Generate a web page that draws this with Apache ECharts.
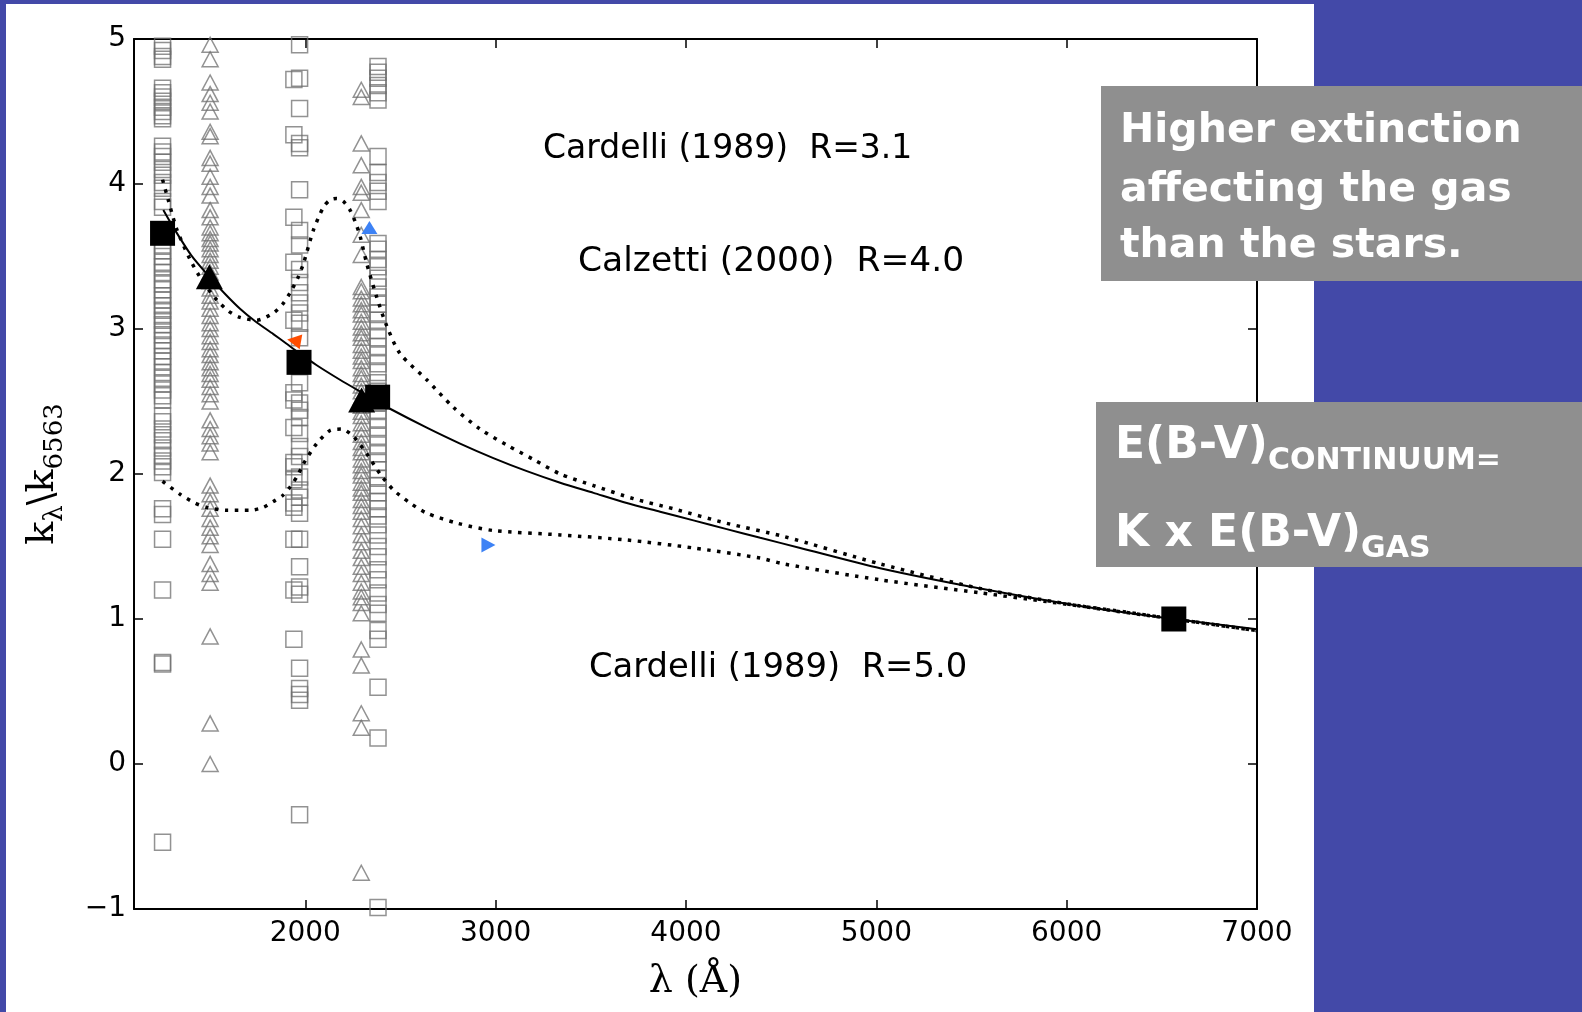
<!DOCTYPE html>
<html><head><meta charset="utf-8">
<script src="https://cdn.jsdelivr.net/npm/echarts@6/dist/echarts.min.js"></script>
<style>html,body{margin:0;padding:0;background:#4349a8;overflow:hidden}#c{width:1582px;height:1012px}</style>
</head><body><div id="c"></div>
<script>
// ---- data ----
const xTicks = [2000, 3000, 4000, 5000, 6000, 7000];
const yTicks = [-1, 0, 1, 2, 3, 4, 5];

// open grey squares / triangles (individual objects), wavelength columns
const colA_x = 1250; // squares
const colA_y = [4.95, 4.92, 4.88, 4.86, 4.66, 4.63, 4.60, 4.57, 4.53, 4.50, 4.47, 4.45, 4.26, 4.22, 4.19, 4.15, 4.10, 4.06, 4.01, 3.97, 3.88, 3.84, 3.58, 3.54, 3.50, 3.46, 3.43, 3.39, 3.34, 3.31, 3.27, 3.23, 3.20, 3.16, 3.13, 3.09, 3.06, 3.03, 2.99, 2.96, 2.92, 2.89, 2.85, 2.81, 2.78, 2.74, 2.70, 2.66, 2.62, 2.58, 2.54, 2.51, 2.40, 2.36, 2.31, 2.27, 2.23, 2.18, 2.13, 2.09, 2.05, 2.01, 1.76, 1.72, 1.55, 1.20, 0.70, 0.69, -0.54];
const colB_x = 1500; // triangles
const colB_y = [4.96, 4.86, 4.70, 4.62, 4.56, 4.50, 4.36, 4.33, 4.18, 4.14, 4.05, 3.98, 3.92, 3.82, 3.77, 3.70, 3.66, 3.62, 3.59, 3.55, 3.51, 3.47, 3.43, 3.39, 3.33, 3.28, 3.23, 3.19, 3.14, 3.09, 3.04, 3.00, 2.95, 2.91, 2.86, 2.82, 2.77, 2.73, 2.69, 2.65, 2.60, 2.55, 2.50, 2.37, 2.31, 2.26, 2.21, 2.15, 1.92, 1.86, 1.81, 1.76, 1.69, 1.63, 1.57, 1.51, 1.38, 1.31, 1.25, 0.88, 0.28, 0.00];
const colC1_x = 1970; // squares
const colC1_y = [4.96, 4.73, 4.52, 4.28, 4.25, 3.96, 3.68, 3.58, 3.41, 3.32, 3.25, 3.18, 3.11, 3.04, 2.94, 2.63, 2.49, 2.44, 2.39, 2.28, 2.19, 2.12, 1.98, 1.89, 1.84, 1.73, 1.55, 1.36, 1.22, 1.17, 0.66, 0.52, 0.48, 0.44, -0.35];
const colC2_x = 1940; // squares
const colC2_y = [4.72, 4.34, 3.77, 3.46, 3.06, 2.56, 2.51, 2.32, 2.08, 2.05, 1.96, 1.80, 1.77, 1.55, 1.20, 0.86];
const colD_x = 2294; // triangles
const colD_y = [4.65, 4.60, 4.28, 4.13, 3.98, 3.94, 3.82, 3.65, 3.51, 3.29, 3.26, 3.21, 3.17, 3.13, 3.10, 3.05, 3.01, 2.97, 2.94, 2.89, 2.85, 2.81, 2.78, 2.73, 2.69, 2.66, 2.61, 2.57, 2.53, 2.47, 2.43, 2.40, 2.35, 2.31, 2.27, 2.22, 2.18, 2.15, 2.10, 2.06, 2.02, 1.99, 1.94, 1.90, 1.87, 1.82, 1.78, 1.74, 1.69, 1.64, 1.58, 1.53, 1.47, 1.42, 1.36, 1.31, 1.25, 1.19, 1.15, 1.11, 1.04, 0.79, 0.68, 0.35, 0.25, -0.75];
const colE_x = 2382; // squares
const colE_y = [4.81, 4.77, 4.73, 4.68, 4.63, 4.58, 4.19, 4.08, 4.01, 3.95, 3.88, 3.59, 3.55, 3.48, 3.43, 3.35, 3.29, 3.22, 3.17, 3.11, 3.06, 2.99, 2.94, 2.88, 2.82, 2.76, 2.70, 2.63, 2.57, 2.49, 2.44, 2.38, 2.32, 2.26, 2.20, 2.14, 2.08, 2.03, 1.97, 1.92, 1.87, 1.81, 1.76, 1.71, 1.65, 1.58, 1.50, 1.43, 1.34, 1.27, 1.18, 1.10, 1.04, 0.92, 0.86, 0.53, 0.18, -0.99];

// big black markers (stacked values)
const bigSq_x = [1250, 1967, 2380, 6563];
const bigSq_y = [3.66, 2.77, 2.53, 1.00];
const bigTri_x = [1496, 2296];
const bigTri_y = [3.36, 2.51];

// small coloured markers
const blueUp = [2337, 3.70];
const orangeLeft = [1941, 2.92];
const blueRight = [2962, 1.51];

// curves
const calzLam = [1254, 1307, 1400, 1496, 1580, 1657, 1740, 1832, 1900, 1967, 2060, 2182, 2300, 2380, 2445, 2638, 2813, 2988, 3164, 3339, 3514, 3689, 3864, 4039, 4214, 4390, 4600, 5020, 5546, 6071, 6563, 7000];
const calzK = [3.82, 3.70, 3.51, 3.36, 3.24, 3.14, 3.05, 2.965, 2.90, 2.835, 2.75, 2.65, 2.56, 2.50, 2.45, 2.32, 2.21, 2.11, 2.02, 1.94, 1.87, 1.80, 1.74, 1.68, 1.62, 1.56, 1.49, 1.35, 1.21, 1.09, 1.00, 0.93];
const card31Lam = [1250, 1280, 1324, 1394, 1460, 1535, 1600, 1657, 1745, 1832, 1880, 1920, 1960, 1990, 2042, 2095, 2130, 2165, 2200, 2235, 2265, 2288, 2323, 2375, 2428, 2498, 2638, 2778, 2918, 3058, 3199, 3339, 3514, 3724, 3934, 4214, 4512, 5020, 5546, 6071, 6563, 7000];
const card31K = [4.03, 3.89, 3.69, 3.48, 3.33, 3.20, 3.12, 3.08, 3.06, 3.11, 3.17, 3.25, 3.35, 3.45, 3.68, 3.84, 3.89, 3.90, 3.88, 3.82, 3.73, 3.64, 3.45, 3.22, 3.02, 2.83, 2.65, 2.46, 2.31, 2.20, 2.10, 2.00, 1.92, 1.83, 1.76, 1.66, 1.57, 1.38, 1.21, 1.09, 1.00, 0.92];
const card50Lam = [1250, 1342, 1420, 1482, 1587, 1710, 1780, 1832, 1880, 1920, 1960, 1990, 2060, 2130, 2191, 2252, 2323, 2393, 2463, 2550, 2638, 2800, 2988, 3339, 3689, 4039, 4390, 4512, 5020, 5546, 5896, 6300, 6563, 7000];
const card50K = [1.95, 1.86, 1.80, 1.77, 1.75, 1.75, 1.77, 1.81, 1.85, 1.91, 1.99, 2.07, 2.21, 2.30, 2.31, 2.26, 2.14, 2.00, 1.89, 1.80, 1.73, 1.66, 1.61, 1.58, 1.545, 1.49, 1.42, 1.38, 1.27, 1.18, 1.12, 1.05, 1.00, 0.92];

// ---- build ----
const col = (x, ys) => ys.map(v => [x, v]);
const zip = (a, b) => a.map((v, i) => [v, b[i]]);
const squaresData = [].concat(col(colA_x, colA_y), col(colC1_x, colC1_y), col(colC2_x, colC2_y), col(colE_x, colE_y));
const trianglesData = [].concat(col(colB_x, colB_y), col(colD_x, colD_y));

const chart = echarts.init(document.getElementById('c'), null, {renderer: 'canvas'});
const sans = '"DejaVu Sans", "Noto Sans", sans-serif';
const serif = '"DejaVu Serif", "Liberation Serif", serif';
const frame = {show: true, onZero: false, lineStyle: {color: '#000', width: 2}};
const tickX = {show: true, inside: true, length: 9, customValues: xTicks, lineStyle: {color: '#000', width: 1.5}};
const tickY = {show: true, inside: true, length: 9, lineStyle: {color: '#000', width: 1.5}};
const openStyle = {color: 'rgba(0,0,0,0)', borderColor: 'rgba(110,110,110,0.75)', borderWidth: 1.5, opacity: 1};
const dotted = {color: '#000', width: 3.5, type: [3.5, 6.5], cap: 'butt'};
const annot = (t, x, y, size) => ({type: 'text', x: x, y: y, z: 10,
  style: {text: t, fill: '#000', font: size + 'px ' + sans, align: 'left', verticalAlign: 'middle'}});
const boxLine = (t, y) => ({type: 'text', x: 1120, y: y, z: 21,
  style: {text: t, fill: '#fff', font: 'bold 41px ' + sans, align: 'left', verticalAlign: 'middle'}});
const subRich = {m: {fontFamily: sans, fontWeight: 'bold', fontSize: 44, lineHeight: 44, padding: [0, 0, 14, 0], fill: '#fff', color: '#fff'},
                 s: {fontFamily: sans, fontWeight: 'bold', fontSize: 30, lineHeight: 30, verticalAlign: 'bottom', fill: '#fff', color: '#fff'}};

const option = {
  backgroundColor: '#4349a8',
  animation: false,
  grid: {left: 134, top: 39, width: 1123, height: 870, containLabel: false, outerBoundsMode: 'none'},
  xAxis: [
    {type: 'value', min: 1100, max: 7000, position: 'bottom', axisLine: frame, axisTick: tickX,
     axisLabel: {customValues: xTicks, fontSize: 28, color: '#000', fontFamily: sans, margin: 11, formatter: v => String(v)},
     splitLine: {show: false},
     name: 'λ (Å)', nameLocation: 'middle', nameGap: 54,
     nameTextStyle: {fontFamily: serif, fontSize: 38, color: '#000'}},
    {type: 'value', min: 1100, max: 7000, position: 'top', axisLine: frame, axisTick: tickX,
     axisLabel: {show: false}, splitLine: {show: false}}
  ],
  yAxis: [
    {type: 'value', min: -1, max: 5, interval: 1, position: 'left', axisLine: frame, axisTick: tickY,
     axisLabel: {fontSize: 28, color: '#000', fontFamily: sans, margin: 8, padding: [6, 0, 0, 0],
                 formatter: v => v < 0 ? '\u2212' + (-v) : String(v)},
     splitLine: {show: false},
     name: '{a|k}{s|λ}{a|\\}{a|k}{s|6563}', nameLocation: 'middle', nameGap: 57, nameRotate: 90,
     nameTextStyle: {rich: {
       a: {fontFamily: serif, fontSize: 38, lineHeight: 38, padding: [0, 0, 12, 0], color: '#000'},
       s: {fontFamily: serif, fontSize: 26, lineHeight: 26, verticalAlign: 'bottom', color: '#000'}
     }}},
    {type: 'value', min: -1, max: 5, interval: 1, position: 'right', axisLine: frame, axisTick: tickY,
     axisLabel: {show: false}, splitLine: {show: false}}
  ],
  series: [
    {type: 'scatter', name: 'squares', symbol: 'rect', symbolSize: 16, data: squaresData,
     itemStyle: openStyle, z: 2, silent: true},
    {type: 'scatter', name: 'triangles', symbol: 'triangle', symbolSize: [16, 15], data: trianglesData,
     itemStyle: openStyle, z: 2, silent: true},
    {type: 'line', name: 'Calzetti', data: zip(calzLam, calzK), showSymbol: false, smooth: 0.25,
     lineStyle: {color: '#000', width: 2}, z: 3, silent: true},
    {type: 'line', name: 'Cardelli 3.1', data: zip(card31Lam, card31K), showSymbol: false, smooth: 0.25,
     lineStyle: dotted, z: 3, silent: true},
    {type: 'line', name: 'Cardelli 5.0', data: zip(card50Lam, card50K), showSymbol: false, smooth: 0.25,
     lineStyle: dotted, z: 3, silent: true},
    {type: 'scatter', name: 'stack squares', symbol: 'rect', symbolSize: 25, data: zip(bigSq_x, bigSq_y),
     itemStyle: {color: '#000', opacity: 1}, z: 4, silent: true},
    {type: 'scatter', name: 'stack triangles', symbol: 'triangle', symbolSize: [27, 25], data: zip(bigTri_x, bigTri_y),
     itemStyle: {color: '#000', opacity: 1}, z: 4, silent: true},
    {type: 'scatter', name: 'blue up', symbol: 'triangle', symbolSize: [16, 13], data: [blueUp],
     itemStyle: {color: '#3d82f5', opacity: 1}, z: 5, silent: true},
    {type: 'scatter', name: 'orange left', symbol: 'triangle', symbolSize: [15, 14], symbolRotate: 80, data: [orangeLeft],
     itemStyle: {color: '#ff4d00', opacity: 1}, z: 5, silent: true},
    {type: 'scatter', name: 'blue right', symbol: 'triangle', symbolSize: [15, 14], symbolRotate: -90, data: [blueRight],
     itemStyle: {color: '#3d82f5', opacity: 1}, z: 5, silent: true}
  ],
  graphic: [
    {type: 'rect', shape: {x: 6, y: 4, width: 1308, height: 1008}, style: {fill: '#fff'}, z: -10, silent: true},
    annot('Cardelli (1989)  R=3.1', 543, 149, 33),
    annot('Calzetti (2000)  R=4.0', 578, 262, 34.5),
    annot('Cardelli (1989)  R=5.0', 589, 668, 33.8),
    {type: 'rect', shape: {x: 1101, y: 86, width: 481, height: 195}, style: {fill: '#8f8f8f'}, z: 20, silent: true},
    boxLine('Higher extinction', 131),
    boxLine('affecting the gas', 190),
    boxLine('than the stars.', 246),
    {type: 'rect', shape: {x: 1096, y: 402, width: 486, height: 165}, style: {fill: '#8f8f8f'}, z: 20, silent: true},
    {type: 'text', x: 1115, y: 432, z: 21, style: {text: '{m|E(B-V)}{s|CONTINUUM=}', align: 'left', verticalAlign: 'top', fill: '#fff', rich: subRich}},
    {type: 'text', x: 1115, y: 520, z: 21, style: {text: '{m|K x E(B-V)}{s|GAS}', align: 'left', verticalAlign: 'top', fill: '#fff', rich: subRich}}
  ]
};
chart.setOption(option);
</script></body></html>
